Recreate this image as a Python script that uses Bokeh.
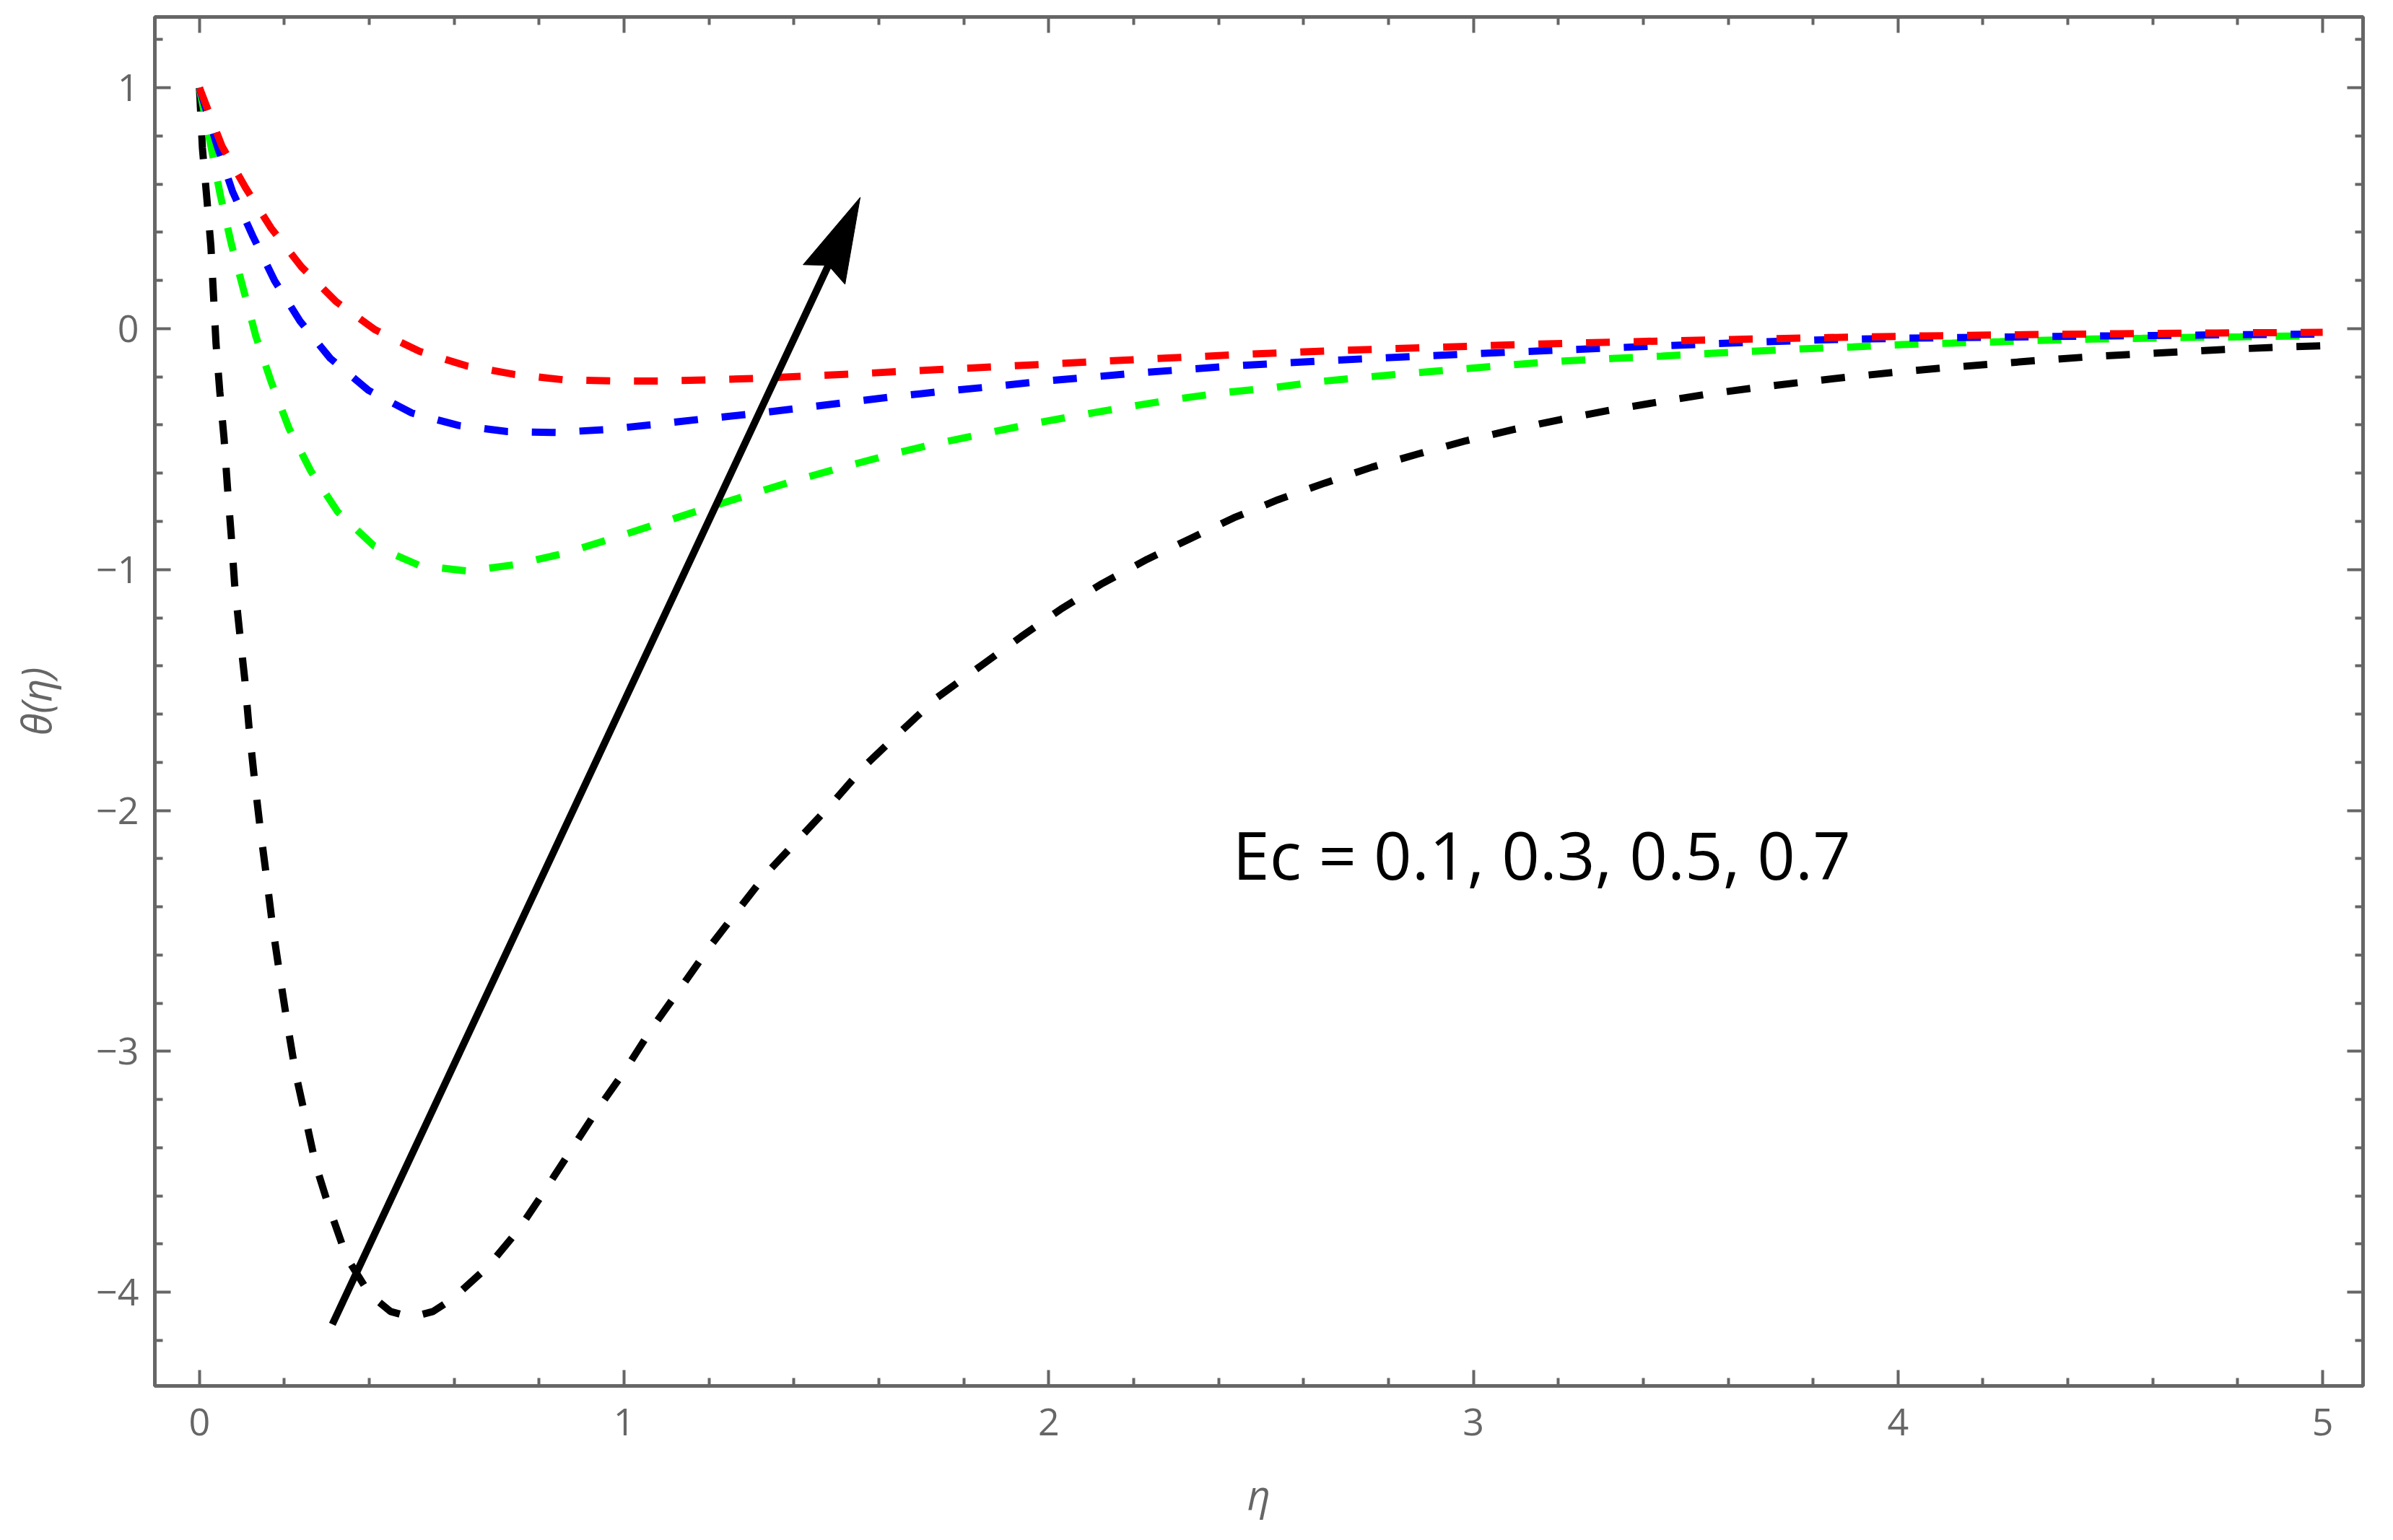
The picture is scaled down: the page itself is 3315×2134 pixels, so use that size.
import math
from bokeh.plotting import figure
from bokeh.models import Range1d, LinearAxis, FixedTicker, Label
from bokeh.embed import file_html
from bokeh.resources import INLINE

# ---------------- data ----------------
# Ec = 0.1 (black)
eta_k = [0, 0.007, 0.017, 0.027, 0.033, 0.039, 0.048, 0.058, 0.066, 0.075, 0.083, 0.095,
         0.107, 0.117, 0.129, 0.143, 0.158, 0.172, 0.189, 0.206, 0.226, 0.249, 0.274,
         0.305, 0.347, 0.402, 0.45, 0.499, 0.55, 0.594, 0.679, 0.751, 0.81, 0.87, 0.938,
         1.003, 1.066, 1.134, 1.202, 1.27, 1.338, 1.415, 1.491, 1.568, 1.653, 1.738, 1.84,
         1.934, 2.028, 2.126, 2.232, 2.334, 2.436, 2.54, 2.65, 2.761, 2.87, 2.981, 3.093,
         3.206, 3.317, 3.43, 3.543, 3.656, 3.771, 3.887, 4.0, 4.113, 4.229, 4.344, 4.457,
         4.57, 4.686, 4.8, 4.915, 5.0]
theta_k = [1.0, 0.75, 0.55, 0.344, 0.143, -0.06, -0.262, -0.456, -0.658, -0.861, -1.064,
           -1.266, -1.459, -1.66, -1.861, -2.073, -2.277, -2.477, -2.681, -2.874, -3.086,
           -3.27, -3.472, -3.646, -3.856, -4.011, -4.08, -4.104, -4.08, -4.03, -3.895,
           -3.742, -3.587, -3.424, -3.24, -3.077, -2.903, -2.735, -2.565, -2.41, -2.256,
           -2.112, -1.968, -1.813, -1.67, -1.53, -1.40, -1.28, -1.165, -1.058, -0.957,
           -0.871, -0.785, -0.71, -0.641, -0.575, -0.52, -0.466, -0.419, -0.377, -0.34,
           -0.306, -0.274, -0.247, -0.223, -0.2, -0.18, -0.162, -0.146, -0.13, -0.116,
           -0.105, -0.094, -0.084, -0.076, -0.071]

# Ec = 0.3 (green)
eta_g = [0, 0.027, 0.049, 0.075, 0.104, 0.133, 0.169, 0.211, 0.262, 0.325, 0.41, 0.518,
         0.632, 0.742, 0.858, 0.964, 1.074, 1.185, 1.292, 1.403, 1.513, 1.624, 1.735,
         1.845, 1.96, 2.07, 2.184, 2.297, 2.41, 2.527, 2.641, 2.754, 2.867, 2.984, 3.097,
         3.213, 3.326, 3.443, 3.556, 3.668, 3.784, 3.893, 4.01, 4.126, 4.24, 4.35, 4.46,
         4.575, 4.688, 4.805, 4.915, 5.0]
theta_g = [1.0, 0.758, 0.556, 0.353, 0.161, -0.032, -0.221, -0.414, -0.59, -0.759, -0.9,
           -0.983, -1.006, -0.98, -0.933, -0.875, -0.813, -0.75, -0.691, -0.63, -0.576,
           -0.524, -0.477, -0.437, -0.395, -0.36, -0.325, -0.293, -0.266, -0.245, -0.219,
           -0.2, -0.183, -0.166, -0.149, -0.134, -0.124, -0.114, -0.103, -0.093, -0.083,
           -0.076, -0.066, -0.06, -0.054, -0.048, -0.043, -0.04, -0.036, -0.034, -0.031,
           -0.03]

# Ec = 0.5 (blue)
eta_b = [0, 0.042, 0.078, 0.126, 0.177, 0.237, 0.308, 0.398, 0.5, 0.611, 0.725, 0.839,
         0.955, 1.069, 1.185, 1.296, 1.412, 1.526, 1.64, 1.753, 1.87, 1.982, 2.21, 2.44,
         2.671, 2.894, 3.12, 3.35, 3.575, 3.804, 4.0, 4.25, 4.5, 4.75, 5.0]
theta_b = [1.0, 0.757, 0.569, 0.383, 0.199, 0.031, -0.123, -0.256, -0.35, -0.402, -0.427,
           -0.431, -0.419, -0.398, -0.375, -0.355, -0.33, -0.306, -0.281, -0.26, -0.24,
           -0.219, -0.184, -0.154, -0.131, -0.113, -0.095, -0.078, -0.062, -0.047, -0.04,
           -0.035, -0.03, -0.026, -0.022]

# Ec = 0.7 (red)
eta_r = [0, 0.053, 0.109, 0.169, 0.24, 0.322, 0.414, 0.518, 0.628, 0.742, 0.856, 0.969,
         1.084, 1.198, 1.314, 1.428, 1.542, 1.658, 1.772, 1.886, 2.0, 2.23, 2.457, 2.69,
         2.918, 3.149, 3.374, 3.606, 3.835, 4.065, 4.3, 4.52, 4.75, 5.0]
theta_r = [1.0, 0.758, 0.584, 0.417, 0.257, 0.112, -0.005, -0.094, -0.154, -0.19, -0.212,
           -0.217, -0.217, -0.213, -0.206, -0.197, -0.188, -0.177, -0.167, -0.157, -0.147,
           -0.126, -0.107, -0.09, -0.077, -0.064, -0.054, -0.045, -0.037, -0.03, -0.025,
           -0.021, -0.018, -0.015]

# arrow (tail -> tip) and annotation
arrow_x = [0.313, 1.556]
arrow_y = [-4.133, 0.545]
note_text = "Ec = 0.1, 0.3, 0.5, 0.7"
note_x, note_y = 2.433, -2.18

# ticks
x_major = [0, 1, 2, 3, 4, 5]
x_labels = ["0", "1", "2", "3", "4", "5"]
x_minor = [k / 5 for k in range(1, 25) if k % 5]
y_major = [-4, -3, -2, -1, 0, 1]
y_labels = ["\u22124", "\u22123", "\u22122", "\u22121", "0", "1"]
y_minor = [k / 5 for k in range(-21, 7) if k % 5]

GRAY = "#666666"
FONT = "Open Sans"

W, H = 3299, 2118
BL, BR, BT, BB = 214, 26, 23, 198
X0, X1 = -0.105, 5.095
Y0, Y1 = -4.389, 1.294

p = figure(width=W, height=H, output_backend="svg", toolbar_location=None,
           x_range=Range1d(X0, X1), y_range=Range1d(Y0, Y1),
           min_border_left=BL, min_border_right=BR, min_border_top=BT,
           min_border_bottom=BB, x_axis_label="\u03b7", y_axis_label="\u03b8(\u03b7)")
p.grid.visible = False
p.outline_line_color = GRAY
p.outline_line_width = 5
p.background_fill_color = "white"
p.border_fill_color = "white"


def style_axis(ax, major, minor, labels, show):
    ax.ticker = FixedTicker(ticks=major, minor_ticks=minor)
    ax.axis_line_color = None
    ax.major_tick_in = 22
    ax.major_tick_out = 0
    ax.minor_tick_in = 11
    ax.minor_tick_out = 0
    ax.major_tick_line_color = GRAY
    ax.minor_tick_line_color = GRAY
    ax.major_tick_line_width = 4
    ax.minor_tick_line_width = 4
    if show:
        ax.major_label_overrides = dict(zip(major, labels))
        ax.major_label_text_font = FONT
        ax.major_label_text_font_size = "52px"
        ax.major_label_text_color = GRAY
        ax.axis_label_text_font = FONT
        ax.axis_label_text_font_style = "italic"
        ax.axis_label_text_font_size = "56px"
        ax.axis_label_text_color = GRAY
    else:
        ax.major_label_text_color = None
        ax.major_label_text_font_size = "0px"
        ax.major_label_standoff = 0


xa = p.xaxis[0]
ya = p.yaxis[0]
style_axis(xa, x_major, x_minor, x_labels, True)
style_axis(ya, y_major, y_minor, y_labels, True)
xa.major_label_standoff = 31
xa.axis_label_standoff = 40
ya.major_label_standoff = 22
ya.axis_label_standoff = 43

top = LinearAxis()
right = LinearAxis()
style_axis(top, x_major, x_minor, x_labels, False)
style_axis(right, y_major, y_minor, y_labels, False)
p.add_layout(top, "above")
p.add_layout(right, "right")

dash = "33 33"
p.line(eta_k, theta_k, line_color="#000000", line_width=10, line_dash=dash)
p.line(eta_g, theta_g, line_color="#00FF00", line_width=10, line_dash=dash)
p.line(eta_b, theta_b, line_color="#0000FF", line_width=10, line_dash=dash)
p.line(eta_r, theta_r, line_color="#FF0000", line_width=10, line_dash=dash)

# arrow: shaft + slender notched head built from the arrow end points
fw, fh = W - BL - BR, H - BT - BB          # frame size in px
sx, sy = fw / (X1 - X0), fh / (Y1 - Y0)   # px per data unit
dxp = (arrow_x[1] - arrow_x[0]) * sx
dyp = (arrow_y[1] - arrow_y[0]) * sy
ln = math.hypot(dxp, dyp)
ux, uy = dxp / ln, dyp / ln               # unit direction (px space)
nx, ny = -uy, ux
head_len, head_w, notch = 118, 64, 14


def pt(along, side):
    return (arrow_x[1] + (-along * ux + side * nx) / sx,
            arrow_y[1] + (-along * uy + side * ny) / sy)


shaft_end = pt(head_len * 0.6, 0)
p.line([arrow_x[0], shaft_end[0]], [arrow_y[0], shaft_end[1]], line_color="black",
       line_width=10)
hp = [pt(0, 0), pt(head_len, head_w / 2), pt(head_len - notch, 0), pt(head_len, -head_w / 2)]
p.patch([q[0] for q in hp], [q[1] for q in hp], fill_color="black", line_color="black",
        line_width=1)

p.add_layout(Label(x=note_x, y=note_y, text=note_text, text_font=FONT, text_font_size="92px",
                   text_color="black", text_align="left", text_baseline="alphabetic"))

open("out.html", "w").write(file_html(p, INLINE))
